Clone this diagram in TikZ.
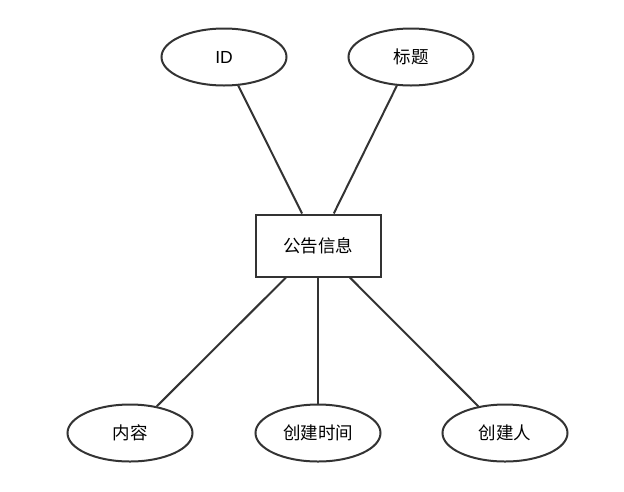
\documentclass[tikz,border=0pt]{standalone}
\usepackage{fontspec}
\setmainfont{Liberation Sans}
\newfontfamily\cjk{Noto Sans CJK SC}
\usetikzlibrary{shapes.geometric}

\begin{document}
\begin{tikzpicture}[x=1pt,y=-1pt,entity/.style={draw=black!80,line width=2pt,fill=white,minimum width=125pt,minimum height=62pt,inner sep=0pt,font=\cjk\fontsize{17.5}{20}\selectfont},attr/.style={ellipse,draw=black!80,line width=2pt,fill=white,minimum width=125pt,minimum height=57pt,inner sep=0pt,font=\cjk\fontsize{17.5}{20}\selectfont},link/.style={draw=black!80,line width=2pt}]
\useasboundingbox (0,0) rectangle (624,491);
\node[entity] (notice) at (318,245.5) {公告信息};
\node[attr] (id) at (224,57) {\fontspec{Liberation Sans}ID};
\node[attr] (title) at (411,57) {标题};
\node[attr] (content) at (130,433) {内容};
\node[attr] (ctime) at (318,433) {创建时间};
\node[attr] (creator) at (505,433) {创建人};
\draw[link] (notice) -- (id);
\draw[link] (notice) -- (title);
\draw[link] (notice) -- (content);
\draw[link] (notice) -- (ctime);
\draw[link] (notice) -- (creator);
\end{tikzpicture}
\end{document}
